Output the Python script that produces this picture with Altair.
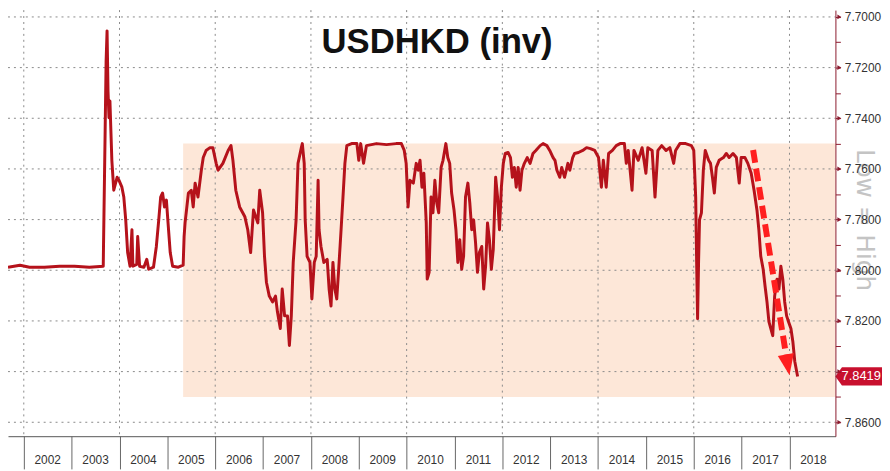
import altair as alt
import pandas as pd

# ---------------- data ----------------
years = [
    2001.67, 2001.92, 2002.12, 2002.43, 2002.75, 2003.06, 2003.37, 2003.66, 2003.70, 2003.72,
    2003.74, 2003.76, 2003.78, 2003.80, 2003.82, 2003.84, 2003.88, 2003.95, 2003.99, 2004.05,
    2004.09, 2004.13, 2004.17, 2004.22, 2004.26, 2004.28, 2004.36, 2004.38, 2004.42, 2004.51,
    2004.57, 2004.61, 2004.71, 2004.77, 2004.82, 2004.86, 2004.90, 2004.94, 2004.98, 2005.02,
    2005.06, 2005.11, 2005.23, 2005.33, 2005.35, 2005.37, 2005.44, 2005.50, 2005.54, 2005.58,
    2005.64, 2005.71, 2005.75, 2005.81, 2005.89, 2005.95, 2006.02, 2006.06, 2006.16, 2006.27,
    2006.33, 2006.37, 2006.43, 2006.51, 2006.62, 2006.68, 2006.74, 2006.80, 2006.89, 2006.93,
    2006.99, 2007.03, 2007.07, 2007.13, 2007.20, 2007.26, 2007.30, 2007.36, 2007.40, 2007.45,
    2007.51, 2007.55, 2007.59, 2007.63, 2007.69, 2007.73, 2007.80, 2007.82, 2007.86, 2007.88,
    2007.92, 2007.98, 2008.02, 2008.07, 2008.11, 2008.15, 2008.17, 2008.21, 2008.27, 2008.34,
    2008.38, 2008.42, 2008.46, 2008.50, 2008.54, 2008.58, 2008.63, 2008.67, 2008.71, 2008.75,
    2008.85, 2008.96, 2009.00, 2009.04, 2009.10, 2009.16, 2009.37, 2009.58, 2009.78, 2009.89,
    2009.95, 2009.99, 2010.03, 2010.07, 2010.14, 2010.20, 2010.24, 2010.28, 2010.32, 2010.36,
    2010.41, 2010.43, 2010.47, 2010.51, 2010.55, 2010.59, 2010.63, 2010.67, 2010.72, 2010.76,
    2010.82, 2010.86, 2010.90, 2010.94, 2010.99, 2011.03, 2011.07, 2011.11, 2011.15, 2011.19,
    2011.23, 2011.28, 2011.32, 2011.36, 2011.40, 2011.44, 2011.48, 2011.52, 2011.57, 2011.61,
    2011.65, 2011.69, 2011.73, 2011.77, 2011.81, 2011.86, 2011.90, 2011.94, 2011.98, 2012.02,
    2012.06, 2012.12, 2012.17, 2012.21, 2012.25, 2012.29, 2012.33, 2012.37, 2012.41, 2012.46,
    2012.52, 2012.58, 2012.64, 2012.70, 2012.79, 2012.85, 2012.93, 2012.99, 2013.06, 2013.10,
    2013.14, 2013.20, 2013.24, 2013.30, 2013.37, 2013.41, 2013.47, 2013.51, 2013.59, 2013.68,
    2013.76, 2013.84, 2013.93, 2014.01, 2014.07, 2014.11, 2014.17, 2014.22, 2014.30, 2014.38,
    2014.46, 2014.55, 2014.59, 2014.63, 2014.71, 2014.75, 2014.84, 2014.92, 2014.96, 2015.00,
    2015.04, 2015.13, 2015.19, 2015.25, 2015.33, 2015.42, 2015.50, 2015.58, 2015.62, 2015.71,
    2015.83, 2015.95, 2016.00, 2016.04, 2016.06, 2016.08, 2016.10, 2016.12, 2016.16, 2016.20,
    2016.24, 2016.31, 2016.35, 2016.39, 2016.43, 2016.47, 2016.53, 2016.62, 2016.68, 2016.74,
    2016.82, 2016.89, 2016.95, 2016.99, 2017.07, 2017.13, 2017.20, 2017.26, 2017.32, 2017.36,
    2017.40, 2017.45, 2017.49, 2017.53, 2017.57, 2017.61, 2017.65, 2017.69, 2017.74, 2017.78,
    2017.82, 2017.86, 2017.90, 2017.94, 2017.98, 2018.03, 2018.07, 2018.11, 2018.17,
]
usdhkd = [
    7.7988, 7.7980, 7.7988, 7.7988, 7.7984, 7.7984, 7.7988, 7.7984, 7.7449, 7.7176,
    7.7055, 7.7293, 7.7398, 7.7332, 7.7449, 7.7566, 7.7684, 7.7633, 7.7645, 7.7672,
    7.7711, 7.7801, 7.7930, 7.7984, 7.7840, 7.7984, 7.7977, 7.7867, 7.7984, 7.7988,
    7.7957, 7.7996, 7.7988, 7.7906, 7.7801, 7.7711, 7.7695, 7.7750, 7.7723, 7.7828,
    7.7930, 7.7984, 7.7988, 7.7980, 7.7867, 7.7813, 7.7695, 7.7684, 7.7750, 7.7656,
    7.7711, 7.7605, 7.7555, 7.7527, 7.7516, 7.7516, 7.7578, 7.7605, 7.7578, 7.7527,
    7.7508, 7.7566, 7.7684, 7.7750, 7.7789, 7.7840, 7.7930, 7.7762, 7.7813, 7.7684,
    7.7773, 7.7945, 7.8047, 7.8102, 7.8125, 7.8102, 7.8164, 7.8230, 7.8074, 7.8180,
    7.8180, 7.8297, 7.8180, 7.7969, 7.7801, 7.7578, 7.7516, 7.7500, 7.7578, 7.7801,
    7.7945, 7.7969, 7.8113, 7.7969, 7.7945, 7.7645, 7.7840, 7.7906, 7.7969, 7.7957,
    7.8074, 7.8141, 7.7969, 7.8074, 7.8113, 7.7996, 7.7840, 7.7711, 7.7578, 7.7508,
    7.7500, 7.7500, 7.7566, 7.7500, 7.7578, 7.7508, 7.7500, 7.7504, 7.7500, 7.7500,
    7.7527, 7.7578, 7.7750, 7.7645, 7.7656, 7.7578, 7.7605, 7.7566, 7.7672, 7.7617,
    7.7813, 7.8035, 7.8008, 7.7711, 7.7773, 7.7645, 7.7734, 7.7773, 7.7594, 7.7566,
    7.7500, 7.7555, 7.7578, 7.7695, 7.7762, 7.7840, 7.7969, 7.7879, 7.7996, 7.7945,
    7.7711, 7.7656, 7.7734, 7.7840, 7.7801, 7.7891, 7.8008, 7.7930, 7.7906, 7.8074,
    7.7984, 7.7813, 7.7879, 7.7996, 7.7918, 7.7633, 7.7711, 7.7840, 7.7672, 7.7578,
    7.7539, 7.7535, 7.7555, 7.7633, 7.7594, 7.7672, 7.7594, 7.7684, 7.7605, 7.7578,
    7.7555, 7.7578, 7.7539, 7.7527, 7.7508, 7.7500, 7.7508, 7.7527, 7.7555, 7.7566,
    7.7605, 7.7633, 7.7594, 7.7633, 7.7578, 7.7605, 7.7555, 7.7539, 7.7535, 7.7527,
    7.7516, 7.7520, 7.7527, 7.7555, 7.7672, 7.7566, 7.7672, 7.7539, 7.7527, 7.7508,
    7.7500, 7.7500, 7.7578, 7.7527, 7.7684, 7.7527, 7.7566, 7.7516, 7.7566, 7.7617,
    7.7516, 7.7527, 7.7711, 7.7527, 7.7508, 7.7527, 7.7516, 7.7578, 7.7527, 7.7500,
    7.7500, 7.7508, 7.7527, 7.7711, 7.7969, 7.8191, 7.7969, 7.7801, 7.7773, 7.7605,
    7.7527, 7.7566, 7.7578, 7.7633, 7.7695, 7.7594, 7.7566, 7.7555, 7.7539, 7.7555,
    7.7539, 7.7555, 7.7656, 7.7555, 7.7555, 7.7578, 7.7617, 7.7684, 7.7762, 7.7840,
    7.7945, 7.7996, 7.8063, 7.8125, 7.8203, 7.8230, 7.8258, 7.8102, 7.8035, 7.8074,
    7.7984, 7.8035, 7.8125, 7.8180, 7.8203, 7.8230, 7.8281, 7.8359, 7.8419,
]

year_labels = [str(y) for y in range(2002, 2019)]
year_bounds = list(range(2002, 2019))
grid_years = [2002, 2004, 2006, 2008, 2010, 2012, 2014, 2016, 2018]
y_major = [7.70, 7.72, 7.74, 7.76, 7.78, 7.80, 7.82, 7.84, 7.86]
y_ticks = [7.70, 7.71, 7.72, 7.73, 7.74, 7.75, 7.76, 7.77, 7.78, 7.79,
           7.80, 7.81, 7.82, 7.83, 7.84, 7.85, 7.86]
band_start, band_low, band_high = 2005.33, 7.75, 7.85
arrow_from = (2017.24, 7.7525)
arrow_to = (2017.93, 7.8336)
arrow_tip = (2018.00, 7.8414)
last_value = 7.8419
title_text = "USDHKD (inv)"
side_text = "Low = High"

X_DOMAIN = [2001.67, 2018.96]
Y_DOMAIN = [7.6973, 7.8655]
W, H = 835, 430

LINE = "#b5121b"
MAROON = "#8b1a2e"
PEACH = "#fde7d8"
FONT = "Liberation Sans"

xs = alt.Scale(domain=X_DOMAIN, nice=False, zero=False)
ys = alt.Scale(domain=Y_DOMAIN, reverse=True, nice=False, zero=False)

label_expr = ("(round(datum.value*100) % 2 == 0 && round(datum.value*100) != 784) "
              "? format(datum.value, '.4f') : ''")

X_AX = alt.Axis(values=year_bounds, labels=False, grid=False, tickSize=33,
                tickColor="#666666", domainColor="#555555", title=None)
Y_AX = alt.Axis(orient="right", values=y_ticks, grid=False, tickSize=5,
                tickColor=MAROON, domainColor=MAROON, labelExpr=label_expr,
                labelFont=FONT, labelFontSize=12, labelColor="#333333",
                labelPadding=4, labelOverlap=False, labelFlush=False, title=None,
                zindex=1)


def X(field):
    return alt.X(field, scale=xs, axis=X_AX)


def Y(field):
    return alt.Y(field, scale=ys, axis=Y_AX)


df = pd.DataFrame({"x": years, "v": usdhkd})

band = alt.Chart(pd.DataFrame({"x": [band_start], "x2": [X_DOMAIN[1]],
                               "v": [band_low], "v2": [band_high]})).mark_rect(
    color=PEACH).encode(x=X("x:Q"), x2="x2:Q", y=Y("v:Q"), y2="v2:Q")

vgrid = alt.Chart(pd.DataFrame({"x": grid_years})).mark_rule(
    color="#8a8a8a", strokeDash=[2, 4], strokeWidth=1).encode(
    x=X("x:Q"), y=alt.value(0), y2=alt.value(H))

hgrid = alt.Chart(pd.DataFrame({"v": y_major})).mark_rule(
    color="#8a8a8a", strokeDash=[2, 4], strokeWidth=1).encode(
    y=Y("v:Q"), x=alt.value(0), x2=alt.value(W))

side = alt.Chart(pd.DataFrame({"t": [side_text]})).mark_text(
    color="#c4c4c4", font="DejaVu Sans", fontSize=25, align="center",
    baseline="middle", angle=90).encode(
    x=alt.value(W + 30), y=alt.value(212), text="t:N")

line = alt.Chart(df).mark_line(color=LINE, strokeWidth=3, clip=True,
                               strokeJoin="round").encode(x=X("x:Q"), y=Y("v:Q"))

arrow = alt.Chart(pd.DataFrame({"x": [arrow_from[0]], "v": [arrow_from[1]],
                                "x2": [arrow_to[0]], "v2": [arrow_to[1]]})).mark_rule(
    color="#ff1f1f", strokeWidth=6, strokeDash=[13, 6], strokeCap="butt").encode(
    x=X("x:Q"), x2="x2:Q", y=Y("v:Q"), y2="v2:Q")

head = alt.Chart(pd.DataFrame({"x": [arrow_tip[0]], "v": [arrow_tip[1]]})).mark_point(
    shape="M0,0L-0.62,-1.6L0.62,-1.6Z", filled=True, opacity=1, color="#ff1f1f",
    size=700, angle=350).encode(x=X("x:Q"), y=Y("v:Q"))

majors = alt.Chart(pd.DataFrame({"v": y_major})).mark_point(
    shape="triangle-right", filled=True, opacity=1, color=MAROON, size=22).encode(
    y=Y("v:Q"), x=alt.value(W + 4))

tag = alt.Chart(pd.DataFrame({"v": [last_value]})).mark_point(
    shape="M-1,0L-0.72,-0.39L1,-0.39L1,0.39L-0.72,0.39Z", filled=True, opacity=1,
    color="#c8102e", size=2209).encode(y=Y("v:Q"), x=alt.value(W + 23.5))

tag_text = alt.Chart(pd.DataFrame({"v": [last_value],
                                   "t": [f"{last_value:.4f}"]})).mark_text(
    color="white", font=FONT, fontSize=13, align="center", baseline="middle").encode(
    y=Y("v:Q"), x=alt.value(W + 26), text="t:N")

ylab = alt.Chart(pd.DataFrame({"x": [y + 0.5 for y in year_bounds],
                               "t": year_labels})).mark_text(
    color="#333333", font=FONT, fontSize=12, align="center", baseline="middle").encode(
    x=X("x:Q"), y=alt.value(H + 24), text="t:N")

title = alt.Chart(pd.DataFrame({"t": [title_text]})).mark_text(
    color="#111111", font=FONT, fontSize=35, fontWeight="bold", align="center",
    baseline="alphabetic").encode(
    x=alt.value(433), y=alt.value(43), text="t:N")

chart = alt.layer(
    band, vgrid, hgrid, side, line, arrow, head, majors, tag, tag_text, ylab, title
).properties(
    width=W, height=H,
    autosize=alt.AutoSizeParams(type="none"),
    padding={"left": 0, "top": 0, "right": 47, "bottom": 33},
    background="white",
).configure_view(stroke=None)

chart.save("out.html", embed_options={"renderer": "svg", "actions": False})
